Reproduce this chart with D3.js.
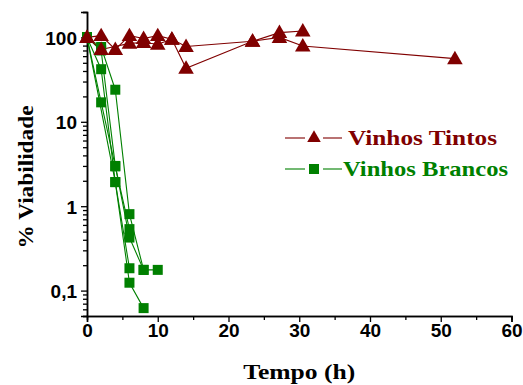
<!DOCTYPE html>
<html lang="pt">
<head>
<meta charset="utf-8">
<title>Viabilidade</title>
<script src="https://d3js.org/d3.v7.min.js"></script>
<style>
  body { margin: 0; background: #fff; }
  .tick text { font-family: "Liberation Sans", Arial, sans-serif; font-weight: bold; font-size: 19px; fill: #000; }
  .title { font-family: "Liberation Serif", "Times New Roman", serif; font-weight: bold; }
</style>
</head>
<body>
<script>
// tintos (red triangles), several wines
var tintoTimes = [
  [0, 2, 4, 6, 8, 10, 12, 14, 23.4, 27.2, 30.5],
  [0, 2, 6, 8, 10, 12, 14, 23.4, 27.2, 30.5, 52]
];
var tintoValues = [
  [100, 105, 72, 105, 97, 105, 95, 78, 90, 114, 119],
  [100, 72, 85, 87, 83, 95, 43, 90, 100, 79, 56]
];
// brancos (green squares)
var brancoTimes = [
  [0, 2, 4, 6],
  [0, 2, 4, 6, 8],
  [0, 2, 4, 6, 8, 10],
  [0, 2, 4, 6, 8],
  [0, 4, 6]
];
var brancoValues = [
  [100, 17, 2.96, 0.535],
  [100, 42, 1.93, 0.124, 0.062],
  [100, 77, 24, 0.805, 0.176, 0.176],
  [100, 70, 3.0, 0.425, 0.176],
  [100, 1.93, 0.184]
];
var xTicks = [0, 10, 20, 30, 40, 50, 60];
var yTicks = [0.1, 1, 10, 100];
var yTickLabels = ["0,1", "1", "10", "100"];

var red = "#800000", green = "#008000";
var W = 523, H = 385;
var margin = {top: 12, right: 11.5, bottom: 69, left: 87};

var svg = d3.select("body").append("svg")
    .attr("width", W).attr("height", H);

var x = d3.scaleLinear().domain([0, 60]).range([margin.left, W - margin.right]);
var y = d3.scaleLog().domain([0.05, 200]).range([H - margin.bottom, margin.top]);

// minor ticks
var xMinor = d3.range(5, 60, 10);
var yMinor = [];
[0.01, 0.1, 1, 10, 100].forEach(function (d) {
  for (var k = 2; k <= 9; k++) {
    var v = d * k;
    if (v >= 0.05 && v <= 200) yMinor.push(v);
  }
});

var gx = svg.append("g").attr("transform", "translate(0," + y.range()[0] + ")");
gx.call(d3.axisBottom(x).tickValues(xMinor).tickSize(4).tickFormat(""));
gx.append("g").call(d3.axisBottom(x).tickValues(xTicks).tickSize(6).tickPadding(2).tickFormat(d3.format("d")));
gx.selectAll("path").attr("stroke-width", 1.5);
gx.selectAll("line").attr("stroke-width", 1.3);

var gy = svg.append("g").attr("transform", "translate(" + margin.left + ",0)");
gy.call(d3.axisLeft(y).tickValues(yMinor).tickSize(4).tickFormat(""));
gy.append("g").call(d3.axisLeft(y).tickValues(yTicks).tickSize(6).tickPadding(4)
    .tickFormat(function (d, i) { return yTickLabels[i]; }));
gy.selectAll("path").attr("stroke-width", 1.5);
gy.selectAll("line").attr("stroke-width", 1.3);
gy.selectAll(".tick text").attr("dy", "0.36em");

var line = d3.line().x(function (d) { return x(d[0]); }).y(function (d) { return y(d[1]); });
var tri = d3.symbol().type(d3.symbolTriangle).size(105);

function pairs(ts, vs) { return ts.map(function (t, i) { return [t, vs[i]]; }); }

var plot = svg.append("g");
brancoTimes.forEach(function (ts, s) {
  var pts = pairs(ts, brancoValues[s]);
  plot.append("path").datum(pts).attr("d", line)
      .attr("fill", "none").attr("stroke", green).attr("stroke-width", 1.1);
});
tintoTimes.forEach(function (ts, s) {
  var pts = pairs(ts, tintoValues[s]);
  plot.append("path").datum(pts).attr("d", line)
      .attr("fill", "none").attr("stroke", red).attr("stroke-width", 1.1);
});
brancoTimes.forEach(function (ts, s) {
  plot.selectAll(null).data(pairs(ts, brancoValues[s])).enter().append("rect")
      .attr("x", function (d) { return x(d[0]) - 5; })
      .attr("y", function (d) { return y(d[1]) - 5; })
      .attr("width", 10).attr("height", 10)
      .attr("fill", green);
});
tintoTimes.forEach(function (ts, s) {
  plot.selectAll(null).data(pairs(ts, tintoValues[s])).enter().append("path")
      .attr("d", tri)
      .attr("transform", function (d) { return "translate(" + x(d[0]) + "," + (y(d[1]) + 1) + ")"; })
      .attr("fill", red);
});

// legend: line - marker - line, then label
var leg = svg.append("g");
[[285, 305], [323, 342]].forEach(function (seg) {
  leg.append("line").attr("x1", seg[0]).attr("x2", seg[1]).attr("y1", 138).attr("y2", 138)
      .attr("stroke", red).attr("stroke-width", 1.1);
  leg.append("line").attr("x1", seg[0]).attr("x2", seg[1]).attr("y1", 169).attr("y2", 169)
      .attr("stroke", green).attr("stroke-width", 1.1);
});
leg.append("path").attr("d", d3.symbol().type(d3.symbolTriangle).size(80))
    .attr("transform", "translate(314,138)").attr("fill", red);
leg.append("text").attr("class", "title").attr("x", 348).attr("y", 145)
    .attr("font-size", 22).attr("textLength", 149).attr("lengthAdjust", "spacingAndGlyphs")
    .attr("fill", red).text("Vinhos Tintos");
leg.append("rect").attr("x", 309).attr("y", 164).attr("width", 10).attr("height", 10).attr("fill", green);
leg.append("text").attr("class", "title").attr("x", 343).attr("y", 176)
    .attr("font-size", 22).attr("textLength", 165).attr("lengthAdjust", "spacingAndGlyphs")
    .attr("fill", green).text("Vinhos Brancos");

// axis titles
svg.append("text").attr("class", "title").attr("text-anchor", "middle")
    .attr("x", (x.range()[0] + x.range()[1]) / 2).attr("y", 379)
    .attr("font-size", 22).attr("textLength", 112).attr("lengthAdjust", "spacingAndGlyphs")
    .text("Tempo (h)");
svg.append("text").attr("class", "title").attr("text-anchor", "middle")
    .attr("transform", "translate(33," + 177 + ") rotate(-90)")
    .attr("font-size", 22).attr("textLength", 143).attr("lengthAdjust", "spacingAndGlyphs")
    .text("% Viabilidade");
</script>
</body>
</html>
